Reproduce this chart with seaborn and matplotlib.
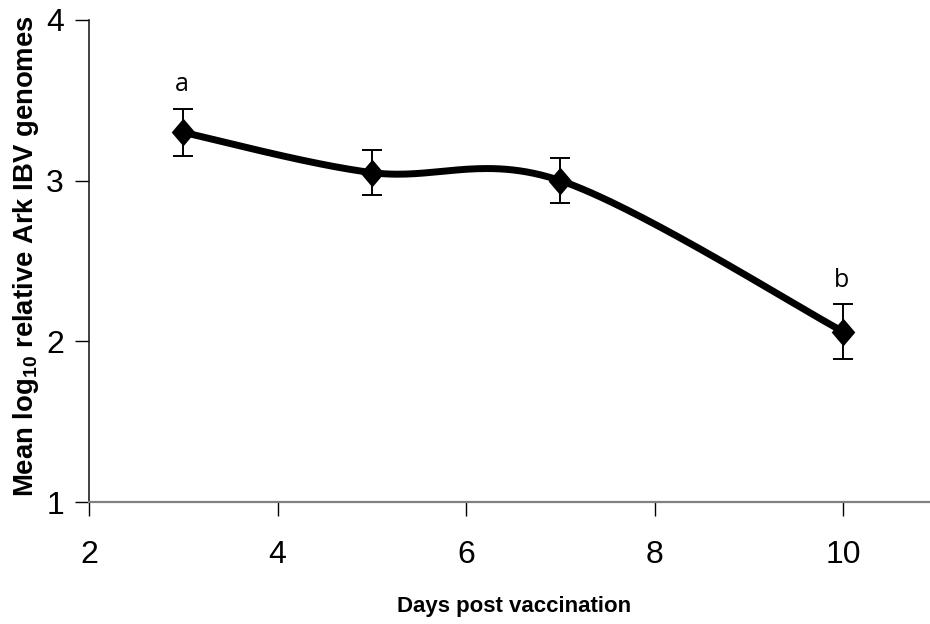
import numpy as np
import pandas as pd
import matplotlib
matplotlib.use("Agg")
import matplotlib.pyplot as plt
import seaborn as sns

# Mean log10 relative Ark IBV genome load by day after vaccination
days = [3, 5, 7, 10]
mean_log10 = [3.30, 3.05, 3.00, 2.06]
sem = [0.145, 0.14, 0.14, 0.17]
letters = ["a", "", "", "b"]

x_ticks = [2, 4, 6, 8, 10]
y_ticks = [1, 2, 3, 4]


def smooth_curve(xs, ys, n=60):
    """Catmull-Rom style Bezier smoothing through the given points."""
    pts = np.column_stack([xs, ys]).astype(float)
    ext = np.vstack([pts[0], pts, pts[-1]])
    out = []
    for i in range(len(pts) - 1):
        p0, p1, p2, p3 = ext[i], ext[i + 1], ext[i + 2], ext[i + 3]
        c1 = p1 + (p2 - p0) / 6.0
        c2 = p2 - (p3 - p1) / 6.0
        t = np.linspace(0, 1, n)[:, None]
        seg = ((1 - t) ** 3) * p1 + 3 * ((1 - t) ** 2) * t * c1 \
            + 3 * (1 - t) * t ** 2 * c2 + t ** 3 * p2
        out.append(seg if i == 0 else seg[1:])
    return np.vstack(out)


sns.set_theme(style="white")
plt.rcParams["font.family"] = ["Liberation Sans", "DejaVu Sans"]
plt.rcParams["text.color"] = "black"
plt.rcParams["axes.labelcolor"] = "black"
plt.rcParams["xtick.color"] = "black"
plt.rcParams["ytick.color"] = "black"

fig = plt.figure(figsize=(9.30, 6.24), dpi=100)
ax = fig.add_axes([0.0957, 0.1955, 0.9043, 0.7725])

curve = smooth_curve(days, mean_log10)
curve_df = pd.DataFrame({"day": curve[:, 0], "value": curve[:, 1]})
points_df = pd.DataFrame({"day": days, "value": mean_log10})

sns.lineplot(data=curve_df, x="day", y="value", sort=False, color="black",
             linewidth=5.0, ax=ax, zorder=2)
ax.errorbar(days, mean_log10, yerr=sem, fmt="none", ecolor="black",
            elinewidth=1.4, capsize=7.5, capthick=1.4, zorder=3)
diamond = [(-0.85, 0), (0, 1), (0.85, 0), (0, -1), (-0.85, 0)]
sns.scatterplot(data=points_df, x="day", y="value", marker=diamond, s=400,
                color="black", edgecolor="black", linewidth=0, ax=ax, zorder=4)

for d, m, e, lab in zip(days, mean_log10, sem, letters):
    if lab:
        ax.text(d - 0.02, m + e + 0.11, lab, ha="center", va="baseline",
                fontsize=18, color="black",
                family=["Open Sans", "DejaVu Sans"])

ax.set_xlim(2, 10.92)
ax.set_ylim(1, 4)
ax.set_xticks(x_ticks)
ax.set_yticks(y_ticks)
ax.tick_params(axis="both", labelsize=23, direction="out", length=10,
               width=1.0, color="black", left=True, bottom=True)
ax.tick_params(axis="x", pad=17)
ax.tick_params(axis="y", pad=8)

for side in ("top", "right"):
    ax.spines[side].set_visible(False)
ax.spines["left"].set_color("#202020")
ax.spines["left"].set_linewidth(1.2)
ax.spines["bottom"].set_color("#808080")
ax.spines["bottom"].set_linewidth(1.6)

ax.set_xlabel("Days post vaccination", fontsize=16, fontweight="bold")
ax.set_ylabel(r"Mean log$_{\mathregular{10}}$ relative Ark IBV genomes",
              fontsize=19.8, fontweight="bold")
ax.xaxis.set_label_coords(0.505, -0.195)
ax.yaxis.set_label_coords(-0.057, 0.51)

fig.savefig("out.png", dpi=100, facecolor="white")
